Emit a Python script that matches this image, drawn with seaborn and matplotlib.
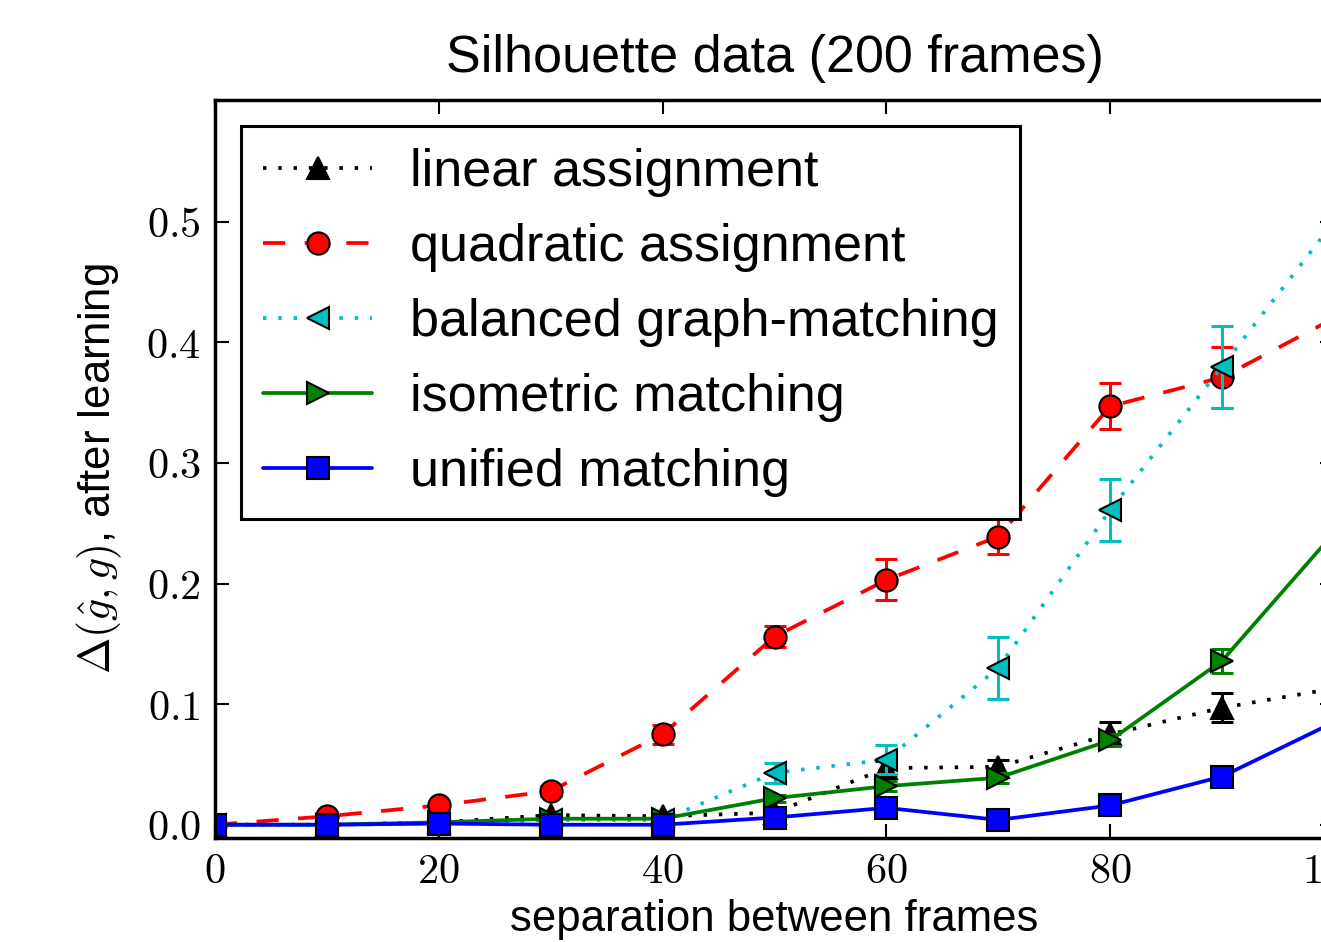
import matplotlib
matplotlib.use("Agg")
import matplotlib.pyplot as plt
import seaborn as sns
import numpy as np

# ---- data ----
separation = [0, 10, 20, 30, 40, 50, 60, 70, 80, 90, 100]
linear = [0.0, 0.0, 0.002, 0.008, 0.007, 0.010, 0.047, 0.048, 0.075, 0.097, 0.113]
linear_err = [0.001, 0.001, 0.001, 0.002, 0.002, 0.003, 0.006, 0.006, 0.010, 0.012, 0.012]
quadratic = [0.0, 0.007, 0.016, 0.028, 0.075, 0.156, 0.203, 0.239, 0.347, 0.371, 0.420]
quadratic_err = [0.001, 0.002, 0.003, 0.004, 0.008, 0.009, 0.017, 0.0145, 0.019, 0.025, 0.025]
balanced = [0.0, 0.0, 0.001, 0.004, 0.004, 0.043, 0.054, 0.130, 0.261, 0.380, 0.500]
balanced_err = [0.001, 0.001, 0.001, 0.002, 0.002, 0.008, 0.012, 0.026, 0.026, 0.034, 0.035]
isometric = [0.0, 0.0, 0.002, 0.005, 0.005, 0.022, 0.032, 0.039, 0.070, 0.136, 0.242]
isometric_err = [0.001, 0.001, 0.001, 0.002, 0.002, 0.003, 0.004, 0.004, 0.005, 0.010, 0.015]
unified = [0.0, 0.0, 0.001, 0.0, 0.0, 0.006, 0.014, 0.004, 0.016, 0.040, 0.085]
unified_err = [0.001, 0.001, 0.001, 0.001, 0.001, 0.002, 0.002, 0.002, 0.002, 0.003, 0.004]

series_names = ["linear assignment", "quadratic assignment", "balanced graph-matching",
                "isometric matching", "unified matching"]
xticks = [0, 20, 40, 60, 80, 100]
yticks = [0.0, 0.1, 0.2, 0.3, 0.4, 0.5]
title = "Silhouette data (200 frames)"
xlabel = "separation between frames"
ylabel = r"$\Delta(\hat{g},g)$, after learning"

sns.set_style("ticks")
plt.rcParams['font.family'] = ['Liberation Sans', 'DejaVu Sans']
plt.rcParams['mathtext.fontset'] = 'cm'
plt.rcParams['lines.scale_dashes'] = False
for key in ['text.color', 'axes.labelcolor', 'xtick.color', 'ytick.color', 'axes.edgecolor']:
    plt.rcParams[key] = 'black'

fig = plt.figure(figsize=(13.21, 9.42), dpi=100)
ax = fig.add_axes([215/1321, 1-838/942, (1334-215)/1321, (838-100)/942])

styles = [
    dict(color='k', marker='^', dashes=(2.5, 8.5)),
    dict(color='r', marker='o', dashes=(16, 14)),
    dict(color=(0, 0.75, 0.75), marker='<', dashes=(2.5, 8.5)),
    dict(color=(0, 0.5, 0), marker='>', dashes=None),
    dict(color=(0, 0, 1), marker='s', dashes=None),
]
values = [linear, quadratic, balanced, isometric, unified]
errors = [linear_err, quadratic_err, balanced_err, isometric_err, unified_err]

for name, vals, errs, st in zip(series_names, values, errors, styles):
    ax.errorbar(separation, vals, yerr=errs, fmt='none', ecolor=st['color'],
                elinewidth=2.2, capsize=8, capthick=2.2)
    kw = dict(color=st['color'], marker=st['marker'], markersize=16,
              markeredgecolor='k', markeredgewidth=1.5, linewidth=2.7,
              label=name)
    if st['dashes'] is not None:
        kw['dashes'] = st['dashes']
    sns.lineplot(x=separation, y=vals, ax=ax, errorbar=None, **kw)

ax.set_xlim(0, 100)
ax.set_ylim(-0.011, 0.601)
ax.set_xticks(xticks)
ax.set_xticklabels([f"${v}$" for v in xticks])
ax.set_yticks(yticks)
ax.set_yticklabels([f"${v:.1f}$" for v in yticks])
ax.tick_params(direction='in', length=10, width=1.5, labelsize=30.5,
               top=True, right=True, pad=10, colors='black')
for sp in ax.spines.values():
    sp.set_linewidth(2.5)
    sp.set_color('k')

ax.set_title(title, fontsize=37.5, pad=20, color='black')
ax.set_xlabel(xlabel, fontsize=31.5, labelpad=5, color='black')
ax.set_ylabel(ylabel, fontsize=31.5, labelpad=16, color='black')

leg = ax.legend(loc='upper left', fontsize=37.5, numpoints=1, fancybox=False,
                frameon=True, edgecolor='k', framealpha=1, borderaxespad=0.5,
                handlelength=2.1, handletextpad=0.72, labelspacing=0.5,
                borderpad=0.42)
leg.get_frame().set_linewidth(2.2)
for t in leg.get_texts():
    t.set_color('black')

fig.savefig("out.png", dpi=100)
